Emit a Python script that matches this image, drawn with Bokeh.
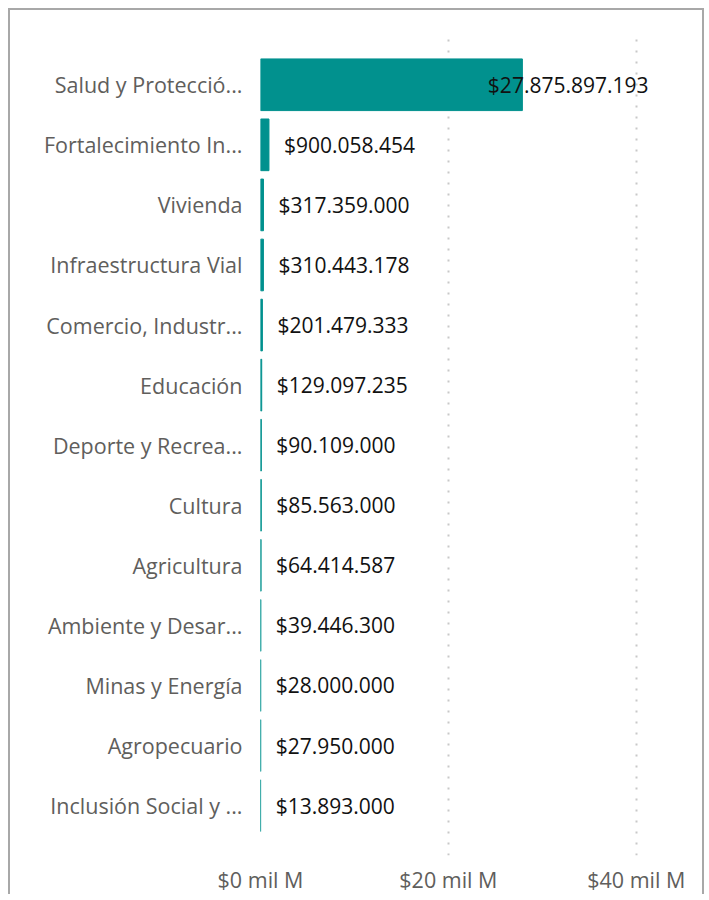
from bokeh.plotting import figure
from bokeh.models import ColumnDataSource, Range1d, FixedTicker
from bokeh.core.properties import value
from bokeh.embed import file_html
from bokeh.resources import INLINE

sectors = ["Salud y Protecció...", "Fortalecimiento In...", "Vivienda", "Infraestructura Vial",
           "Comercio, Industr...", "Educación", "Deporte y Recrea...", "Cultura", "Agricultura",
           "Ambiente y Desar...", "Minas y Energía", "Agropecuario", "Inclusión Social y ..."]
amounts = [27875897193, 900058454, 317359000, 310443178, 201479333, 129097235, 90109000,
           85563000, 64414587, 39446300, 28000000, 27950000, 13893000]
labels = ["$27.875.897.193", "$900.058.454", "$317.359.000", "$310.443.178", "$201.479.333",
          "$129.097.235", "$90.109.000", "$85.563.000", "$64.414.587", "$39.446.300",
          "$28.000.000", "$27.950.000", "$13.893.000"]
tick_values = [0, 20e9, 40e9]
tick_labels = ["$0 mil M", "$20 mil M", "$40 mil M"]

XMAX = 41.3e9
n = len(sectors)
ypos = [n - 1 - i for i in range(n)]
# labels that would not fit outside the bar are pulled back inside the plot area
lab_x = [a if a < 0.5 * XMAX else XMAX for a in amounts]
lab_align = ["left" if a < 0.5 * XMAX else "right" for a in amounts]
lab_off = [15 if a < 0.5 * XMAX else 0 for a in amounts]

src = ColumnDataSource(dict(y=ypos, v=amounts, lab=labels, lx=lab_x, la=lab_align, lo=lab_off))

p = figure(width=696, height=886, output_backend="svg", toolbar_location=None,
           x_range=Range1d(0, XMAX), y_range=Range1d(-0.83, n - 1 + 0.77),
           min_border_left=250, min_border_right=58, min_border_top=28, min_border_bottom=38)
p.styles = {"border-top": "2px solid #a8a8a8", "border-left": "2px solid #a8a8a8",
            "border-right": "2px solid #a8a8a8", "margin-left": "8px", "margin-top": "8px"}
p.outline_line_color = None
p.background_fill_color = "white"
p.border_fill_color = "white"

p.xgrid.grid_line_color = "#c8c8c8"
p.xgrid.grid_line_dash = "2 9"
p.xgrid.grid_line_width = 2
p.ygrid.grid_line_color = None

p.hbar(y="y", left=0, right="v", height=0.86, source=src, fill_color="#01918E",
       line_color="#01918E", line_width=1)

p.text(x="lx", y="y", text="lab", source=src, text_align="la", x_offset="lo",
       text_baseline="middle", text_font=value("Open Sans"), text_font_size="21px",
       text_color="#111111")

p.xaxis.ticker = FixedTicker(ticks=tick_values)
p.xaxis.major_label_overrides = {t: l for t, l in zip(tick_values, tick_labels)}
p.yaxis.ticker = FixedTicker(ticks=ypos)
p.yaxis.major_label_overrides = {y: s for y, s in zip(ypos, sectors)}

for ax in (p.xaxis[0], p.yaxis[0]):
    ax.axis_line_color = None
    ax.major_tick_line_color = None
    ax.minor_tick_line_color = None
    ax.major_tick_out = 0
    ax.major_tick_in = 0
    ax.major_label_text_font = "Open Sans"
    ax.major_label_text_font_size = "21.5px"
    ax.major_label_text_color = "#605E5C"
p.xaxis.major_label_standoff = 9
p.yaxis.major_label_standoff = 18

open("out.html", "w").write(file_html(p, INLINE))
